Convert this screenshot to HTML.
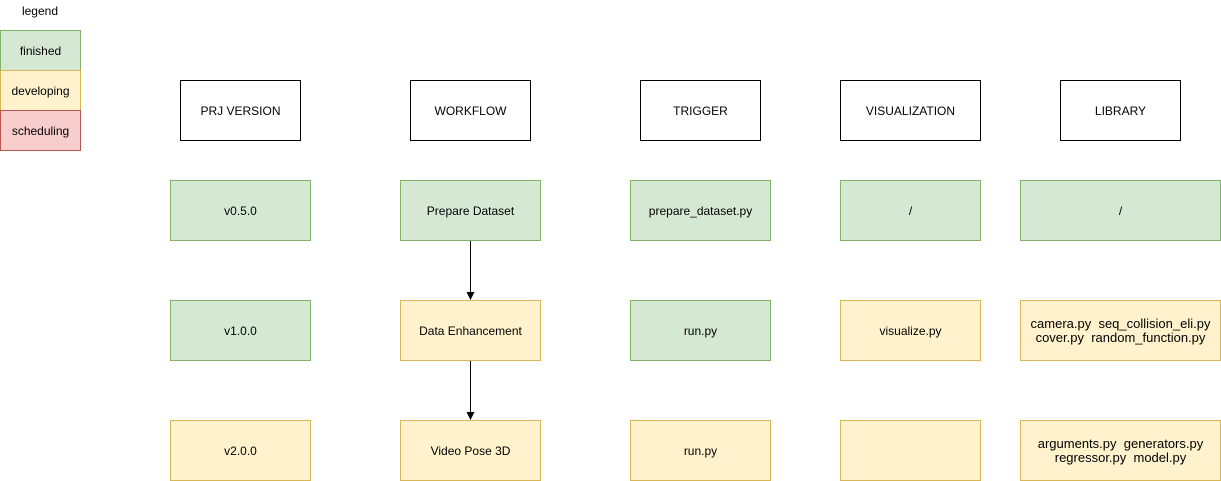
<!DOCTYPE html>
<html><head><meta charset="utf-8"><style>
body{margin:0;width:1221px;height:481px;background:#fff;position:relative;overflow:hidden;font-family:"Liberation Sans",Arial,sans-serif;font-size:12px;color:#000}
.b{position:absolute;box-sizing:border-box;display:flex;align-items:center;justify-content:center;text-align:center;line-height:14px;border:1px solid #000;background:#fff}
.g{background:#d5e8d4;border-color:#82b366}
.y{background:#fff2cc;border-color:#d6b656}
.r{background:#f8cecc;border-color:#b85450}
.t{position:absolute;text-align:center}
.l{font-size:13px;line-height:14px}
</style></head><body>
<div class="t" style="left:0;top:4px;width:80px">legend</div>
<div class="b g" style="left:0;top:30px;width:81px;height:41px">finished</div>
<div class="b y" style="left:0;top:70px;width:81px;height:41px">developing</div>
<div class="b r" style="left:0;top:110px;width:81px;height:41px">scheduling</div>

<div class="b" style="left:180px;top:80px;width:121px;height:61px">PRJ VERSION</div>
<div class="b" style="left:410px;top:80px;width:121px;height:61px">WORKFLOW</div>
<div class="b" style="left:640px;top:80px;width:121px;height:61px">TRIGGER</div>
<div class="b" style="left:840px;top:80px;width:141px;height:61px">VISUALIZATION</div>
<div class="b" style="left:1060px;top:80px;width:121px;height:61px">LIBRARY</div>

<div class="b g" style="left:170px;top:180px;width:141px;height:61px">v0.5.0</div>
<div class="b g" style="left:400px;top:180px;width:141px;height:61px">Prepare Dataset</div>
<div class="b g" style="left:630px;top:180px;width:141px;height:61px">prepare_dataset.py</div>
<div class="b g" style="left:840px;top:180px;width:141px;height:61px">/</div>
<div class="b g" style="left:1020px;top:180px;width:201px;height:61px">/</div>

<div class="b g" style="left:170px;top:300px;width:141px;height:61px">v1.0.0</div>
<div class="b y" style="left:400px;top:300px;width:141px;height:61px">Data Enhancement</div>
<div class="b g" style="left:630px;top:300px;width:141px;height:61px">run.py</div>
<div class="b y" style="left:840px;top:300px;width:141px;height:61px">visualize.py</div>
<div class="b y l" style="left:1020px;top:300px;width:201px;height:61px">camera.py&nbsp; seq_collision_eli.py<br>cover.py&nbsp; random_function.py</div>

<div class="b y" style="left:170px;top:420px;width:141px;height:61px">v2.0.0</div>
<div class="b y" style="left:400px;top:420px;width:141px;height:61px">Video Pose 3D</div>
<div class="b y" style="left:630px;top:420px;width:141px;height:61px">run.py</div>
<div class="b y" style="left:840px;top:420px;width:141px;height:61px"></div>
<div class="b y l" style="left:1020px;top:420px;width:201px;height:61px">arguments.py&nbsp; generators.py<br>regressor.py&nbsp; model.py</div>

<svg style="position:absolute;left:0;top:0" width="1221" height="481">
<line x1="470.5" y1="241" x2="470.5" y2="293" stroke="#000"/>
<polygon points="466.5,292 474.5,292 470.5,300" fill="#000"/>
<line x1="470.5" y1="361" x2="470.5" y2="413" stroke="#000"/>
<polygon points="466.5,412 474.5,412 470.5,420" fill="#000"/>
</svg>
</body></html>
